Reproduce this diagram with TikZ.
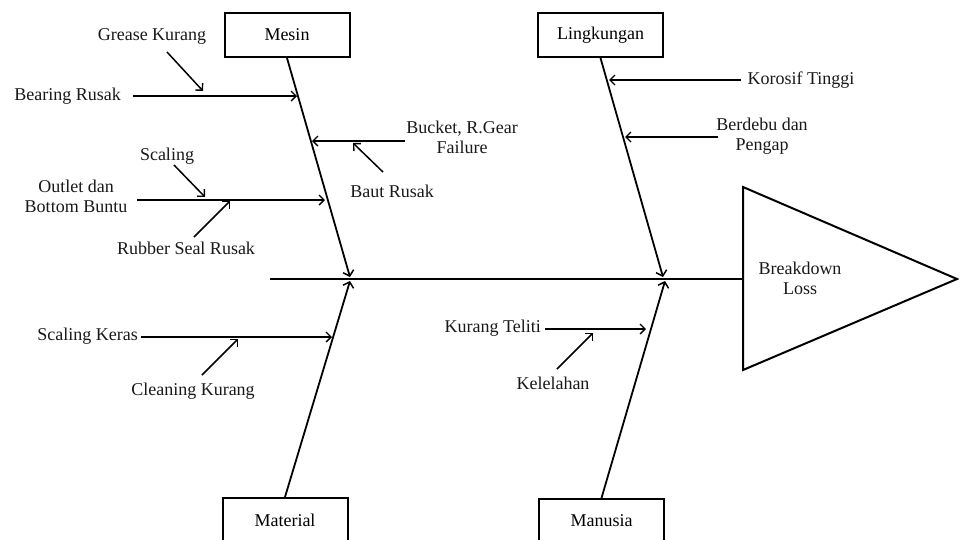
\documentclass[tikz,border=0pt]{standalone}
\usepackage{fontspec}
\setmainfont{Liberation Serif}
\usetikzlibrary{arrows.meta}
\begin{document}
\begin{tikzpicture}[x=1pt,y=-1pt,
  lbl/.style={inner sep=0pt, font=\fontsize{18}{20}\selectfont, align=center, text=black!90},
  box/.style={draw, line width=2pt, minimum width=125pt, minimum height=44pt, inner sep=0pt, font=\fontsize{18}{20}\selectfont},
  bone/.style={line width=1.8pt, -{Straight Barb[length=5pt,width=11pt,line width=1.5pt]}},
  arr/.style={line width=1.5pt, -{Straight Barb[length=5pt,width=10pt,line width=1.4pt]}},
  plain/.style={line width=1.8pt}]
\useasboundingbox (0,0) rectangle (959,539);
\fill[white] (0,0) rectangle (959,539);

% category boxes
\node[box] (mesin) at (287,35) {Mesin};
\node[box] (lingk) at (600.5,35) {Lingkungan};
\node[box] (mat) at (285,520) {Material};
\node[box] (man) at (601.5,521) {Manusia};

% spine and head
\coordinate (sp0) at (270,279);
\coordinate (sp1) at (743,279);
\draw[plain] (sp0) -- (sp1);
\coordinate (t1) at (743,187);
\coordinate (t2) at (957,279);
\coordinate (t3) at (743,370);
\draw[line width=2pt, line join=miter] (t1) -- (t2) -- (t3) -- cycle;
\node[lbl] (head) at (800,278) {Breakdown\\Loss};

% bones
\coordinate (mE) at (350,277);
\coordinate (lE) at (663,277);
\coordinate (aE) at (350,281);
\coordinate (nE) at (665,281);
\draw[bone] (mesin.south) -- (mE);
\draw[bone] (lingk.south) -- (lE);
\draw[bone] (mat.north) -- (aE);
\draw[bone] (man.north) -- (nE);

% Mesin causes
\node[lbl] (grease) at (152,36) {Grease Kurang};
\node[lbl, anchor=east] (bearing) at (121,96) {Bearing Rusak};
\node[lbl] (bucket) at (462,137) {Bucket, R.Gear\\Failure};
\node[lbl] (baut) at (392,191) {Baut Rusak};
\node[lbl] (scaling) at (167,156) {Scaling};
\node[lbl] (outlet) at (76,196) {Outlet dan\\Bottom Buntu};
\node[lbl] (rubber) at (186,248) {Rubber Seal Rusak};

\coordinate (bear0) at (133,96);  \coordinate (bear1) at (297,96);
\coordinate (gr0) at (167,52);    \coordinate (gr1) at (203,91);
\coordinate (buc0) at (405,141);  \coordinate (buc1) at (312,141);
\coordinate (bau0) at (383,172);  \coordinate (bau1) at (353,143);
\coordinate (out0) at (137,200);  \coordinate (out1) at (325,200);
\coordinate (sc0) at (174,165);   \coordinate (sc1) at (205,197);
\coordinate (rub0) at (194,237);  \coordinate (rub1) at (230,201);
\draw[arr] (bear0) -- (bear1);
\draw[arr] (gr0) -- (gr1);
\draw[arr] (buc0) -- (buc1);
\draw[arr] (bau0) -- (bau1);
\draw[arr] (out0) -- (out1);
\draw[arr] (sc0) -- (sc1);
\draw[arr] (rub0) -- (rub1);

% Lingkungan causes
\node[lbl] (korosif) at (801,80) {Korosif Tinggi};
\node[lbl] (berdebu) at (762,136) {Berdebu dan\\Pengap};
\coordinate (kor0) at (741,80);   \coordinate (kor1) at (609,80);
\coordinate (ber0) at (718,137);  \coordinate (ber1) at (625,137);
\draw[arr] (kor0) -- (kor1);
\draw[arr] (ber0) -- (ber1);

% Material causes
\node[lbl, anchor=east] (skeras) at (138,336) {Scaling Keras};
\node[lbl] (clean) at (193,391) {Cleaning Kurang};
\coordinate (sk0) at (141,337);   \coordinate (sk1) at (332,337);
\coordinate (cl0) at (202,375);   \coordinate (cl1) at (238,339);
\draw[arr] (sk0) -- (sk1);
\draw[arr] (cl0) -- (cl1);

% Manusia causes
\node[lbl, anchor=east] (teliti) at (541,328) {Kurang Teliti};
\node[lbl] (lelah) at (553,383) {Kelelahan};
\coordinate (kt0) at (545,329);   \coordinate (kt1) at (646,329);
\coordinate (ke0) at (557,369);   \coordinate (ke1) at (593,333);
\draw[arr] (kt0) -- (kt1);
\draw[arr] (ke0) -- (ke1);
\end{tikzpicture}
\end{document}
